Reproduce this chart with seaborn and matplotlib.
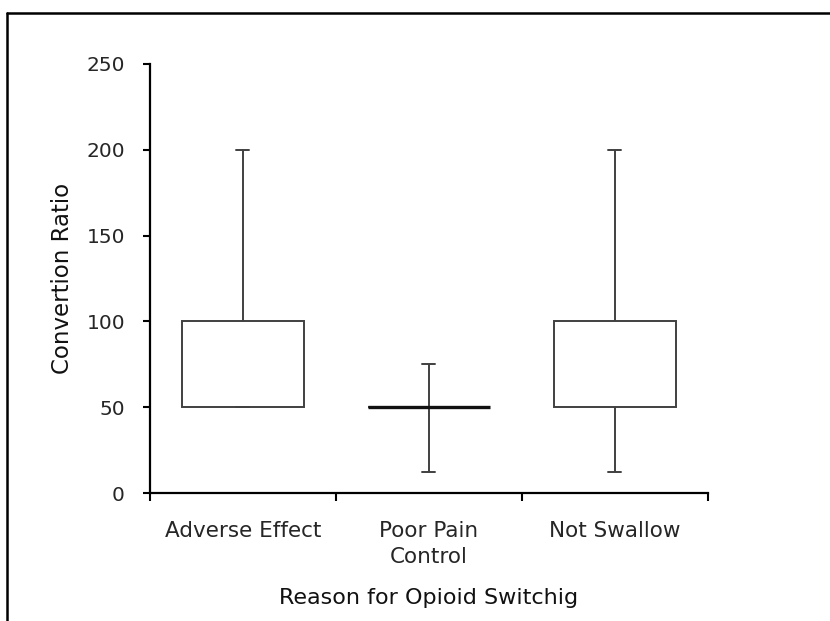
import matplotlib
matplotlib.use("Agg")
import matplotlib.pyplot as plt
from matplotlib.lines import Line2D
import seaborn as sns
import pandas as pd

# Conversion ratios observed for each reason for switching opioids
adverse_effect = [50, 50, 50, 50, 100, 100, 200]
poor_pain_control = [12.5, 50, 50, 50, 50, 50, 75]
not_swallow = [12.5, 50, 50, 100, 100, 200]

categories = ["Adverse Effect", "Poor Pain\nControl", "Not Swallow"]
y_ticks = [0, 50, 100, 150, 200, 250]

df = pd.DataFrame({
    "reason": [categories[0]] * len(adverse_effect)
    + [categories[1]] * len(poor_pain_control)
    + [categories[2]] * len(not_swallow),
    "ratio": adverse_effect + poor_pain_control + not_swallow,
})

sns.set_theme(style="white")
plt.rcParams["font.family"] = ["DejaVu Sans"]

fig = plt.figure(figsize=(8.3, 6.21), dpi=100)
ax = fig.add_axes([0.1807, 0.2061, 0.853 - 0.1807, 0.897 - 0.2061])

sns.boxplot(
    data=df, x="reason", y="ratio", order=categories, ax=ax,
    whis=(0, 100), width=0.66, color="white", linecolor="#404040",
    linewidth=1.4, fliersize=0, capwidths=0.07,
    medianprops=dict(color="#111111", linewidth=2.4, gid="median"),
)

# Show the median bar only where the box collapses onto it
quart = df.groupby("reason")["ratio"].quantile([0.25, 0.75]).unstack()
medians = [ln for ln in ax.lines if ln.get_gid() == "median"]
for cat, ln in zip(categories, medians):
    ln.set_visible(bool(quart.loc[cat, 0.25] == quart.loc[cat, 0.75]))

ax.set_ylim(0, 250)
ax.set_xlim(-0.5, 2.5)
ax.set_yticks(y_ticks)
ax.set_yticklabels([str(v) for v in y_ticks], fontsize=14.5, color="#262626")
ax.set_xticks(range(len(categories)))
ax.set_xticklabels(categories, fontsize=15.5, color="#262626", linespacing=1.4)
ax.set_xticks([-0.5, 0.5, 1.5, 2.5], minor=True)

ax.tick_params(axis="x", which="major", length=0, pad=20)
ax.tick_params(axis="x", which="minor", direction="out", length=6, width=1.5,
               color="black", bottom=True)
ax.tick_params(axis="y", which="major", direction="out", length=5, width=1.5,
               color="black", left=True, pad=13)

for side in ("top", "right"):
    ax.spines[side].set_visible(False)
for side in ("left", "bottom"):
    ax.spines[side].set_color("black")
    ax.spines[side].set_linewidth(1.6)

ax.set_ylabel("Convertion Ratio", fontsize=16.5, color="#111111", labelpad=9)
ax.set_xlabel("Reason for Opioid Switchig", fontsize=16, color="#111111",
              labelpad=15)

# Outer frame along the top and left edges of the figure
fig.add_artist(Line2D([7 / 830, 1.0], [1 - 13 / 621, 1 - 13 / 621],
                      transform=fig.transFigure, color="black", linewidth=1.8))
fig.add_artist(Line2D([7 / 830, 7 / 830], [0.0, 1 - 13 / 621],
                      transform=fig.transFigure, color="black", linewidth=1.8))

fig.savefig("out.png", dpi=100, facecolor="white")
